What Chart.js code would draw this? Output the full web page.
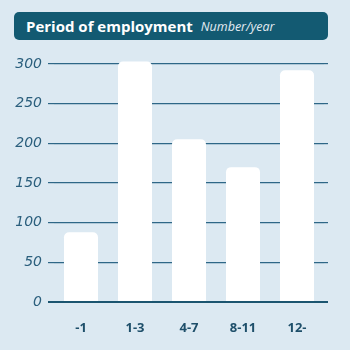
<!DOCTYPE html>
<html>
<head>
<meta charset="utf-8">
<script src="https://cdn.jsdelivr.net/npm/chart.js@4.4.1/dist/chart.umd.min.js"></script>
<style>
  html, body { margin: 0; padding: 0; background: #dce9f2; }
  #wrap { position: relative; width: 350px; height: 350px; background: #dce9f2; }
  #title {
    position: absolute; left: 14px; top: 12px; width: 314px; height: 28px;
    background: #135a72; border-radius: 5px; box-sizing: border-box;
    padding-left: 12px; display: flex; align-items: center; white-space: nowrap;
    font-family: "Open Sans", sans-serif; color: #ffffff;
  }
  #title .main { font-weight: 700; font-size: 15px; }
  #title .sub { font-style: italic; font-size: 12.5px; margin-left: 8px; color: #e3ecf2; }
  canvas { position: absolute; left: 0; top: 0; }
</style>
</head>
<body>
<div id="wrap">
  <canvas id="c" width="350" height="350"></canvas>
  <div id="title"><span class="main">Period of employment</span><span class="sub">Number/year</span></div>
</div>
<script>
const categories = ["-1", "1-3", "4-7", "8-11", "12-"];
const employmentCounts = [88, 303, 205, 170, 292];
const yTicks = [0, 50, 100, 150, 200, 250, 300];

const gridColor = (ctx) => ctx.tick && ctx.tick.value === 0 ? "#1b5570" : "#2e6787";
const gridWidth = (ctx) => ctx.tick && ctx.tick.value === 0 ? 2 : 1.2;

new Chart(document.getElementById("c"), {
  type: "bar",
  data: {
    labels: categories,
    datasets: [{
      data: employmentCounts,
      backgroundColor: "#ffffff",
      borderWidth: 0,
      borderRadius: 5,
      barPercentage: 0.63,
      categoryPercentage: 1,
      clip: false
    }]
  },
  options: {
    responsive: false,
    animation: false,
    events: [],
    layout: { padding: { top: 64, left: 0, right: 0, bottom: 0 } },
    plugins: { legend: { display: false }, tooltip: { enabled: false }, title: { display: false } },
    scales: {
      x: {
        type: "category",
        grid: { display: false },
        border: { display: false },
        ticks: {
          padding: 10,
          color: "#1e4f6a",
          font: { family: "Open Sans", weight: "bold", size: 13 }
        },
        afterFit: (s) => { s.height = 48; }
      },
      y: {
        type: "linear",
        position: "left",
        min: 0,
        max: 300,
        afterBuildTicks: (s) => { s.ticks = yTicks.map(v => ({ value: v })); },
        grid: { color: gridColor, lineWidth: gridWidth, tickLength: 6, tickColor: gridColor, tickWidth: gridWidth },
        border: { display: false },
        ticks: {
          padding: 6,
          color: "#2b5f7d",
          font: { family: "DejaVu Sans", style: "italic", size: 14 }
        },
        afterFit: (s) => { s.width = 54; }
      },
      yRight: {
        type: "linear",
        position: "right",
        min: 0,
        max: 300,
        afterBuildTicks: (s) => { s.ticks = yTicks.map(v => ({ value: v })); },
        grid: { drawOnChartArea: false, color: gridColor, lineWidth: gridWidth, tickLength: 4, tickColor: gridColor, tickWidth: gridWidth },
        border: { display: false },
        ticks: { display: false },
        afterFit: (s) => { s.width = 26; }
      }
    }
  }
});
</script>
</body>
</html>
